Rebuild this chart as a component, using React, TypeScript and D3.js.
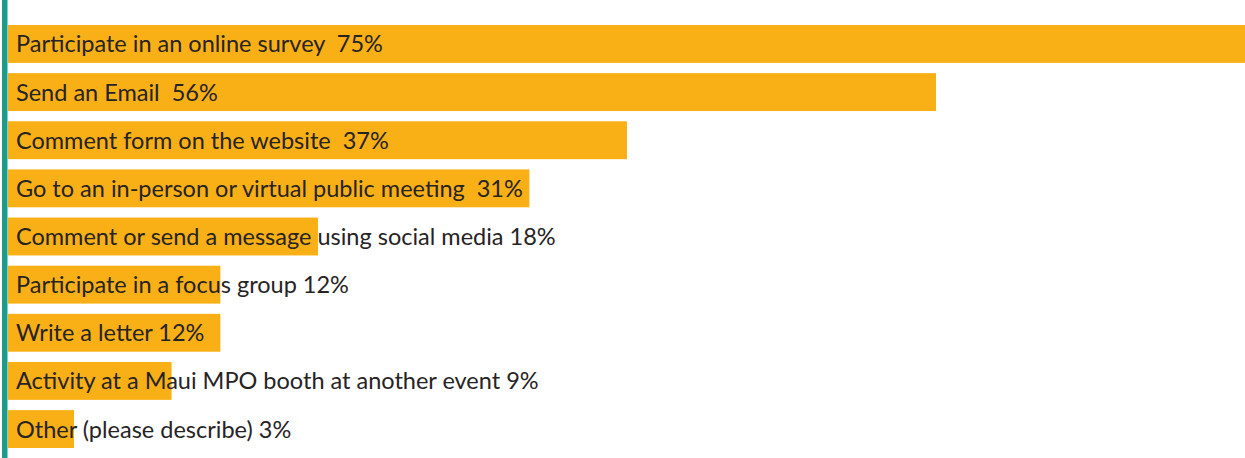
import React from "react";
import * as d3 from "d3";

const categories = [
  "Participate in an online survey",
  "Send an Email",
  "Comment form on the website",
  "Go to an in-person or virtual public meeting",
  "Comment or send a message using social media",
  "Participate in a focus group",
  "Write a letter",
  "Activity at a Maui MPO booth at another event",
  "Other (please describe)",
];
const values = [75, 56, 37, 31, 18, 12, 12, 9, 3];
const valueLabels = ["75%", "56%", "37%", "31%", "18%", "12%", "12%", "9%", "3%"];
const gaps = ["  ", "  ", "  ", "  ", " ", " ", " ", " ", " "];

const W = 1245;
const H = 458;
const BAR_LEFT = 8;

export default function App() {
  const x = d3.scaleLinear().domain([0, 75]).range([25.2, 1245]);
  const y = d3
    .scaleBand<number>()
    .domain(d3.range(categories.length))
    .range([25, 25 + 47 * categories.length])
    .paddingInner(10 / 47)
    .paddingOuter(0);

  return (
    <svg
      width={W}
      height={H}
      style={{ position: "absolute", left: 0, top: 0 }}
      viewBox={`0 0 ${W} ${H}`}
    >
      <rect x={0} y={0} width={W} height={H} fill="#ffffff" />
      {values.map((v, i) => (
        <rect
          key={"b" + i}
          x={BAR_LEFT}
          y={y(i)!}
          width={x(v) - BAR_LEFT}
          height={y.bandwidth()}
          fill="#F9B016"
        />
      ))}
      <rect x={2} y={0} width={5.5} height={H} fill="#1E9A8A" />
      {categories.map((c, i) => (
        <text
          key={"t" + i}
          x={16}
          y={y(i)! + y.bandwidth() / 2}
          dy="0.36em"
          fontFamily="Lato, 'Open Sans', sans-serif"
          fontSize={23.5}
          fill="#262324"
          style={{ whiteSpace: "pre" }}
        >
          {c + gaps[i] + valueLabels[i]}
        </text>
      ))}
    </svg>
  );
}
